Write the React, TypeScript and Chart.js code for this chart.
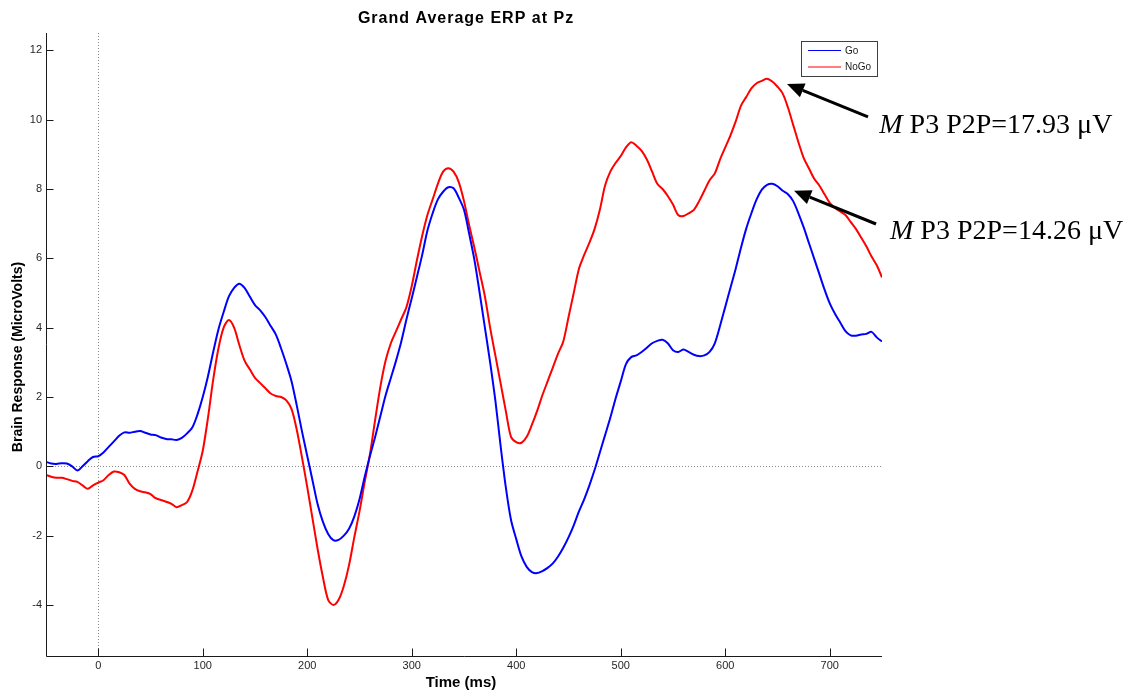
import { useEffect, useRef } from "react";
import { Chart, registerables } from "chart.js";

Chart.register(...registerables);

// ---- data ----
const TIME_START_MS = -50;
const TIME_STEP_MS = 5;

// Go condition, µV, one value every 5 ms from -50 to 750 ms
const goValues = [
  0.13, 0.08, 0.07, 0.09, 0.08, 0.0, -0.12, 0.0, 0.15, 0.27,
  0.29, 0.4, 0.56, 0.72, 0.88, 0.98, 0.97, 1.0, 1.02, 0.97,
  0.92, 0.9, 0.83, 0.79, 0.78, 0.76, 0.82, 0.95, 1.12, 1.5,
  2.0, 2.6, 3.3, 3.95, 4.45, 4.9, 5.15, 5.27, 5.15, 4.9,
  4.65, 4.5, 4.3, 4.05, 3.8, 3.4, 2.95, 2.45, 1.75, 1.0,
  0.3, -0.4, -1.1, -1.6, -1.95, -2.13, -2.12, -2.0, -1.8, -1.45,
  -0.95, -0.3, 0.3, 0.85, 1.45, 2.05, 2.55, 3.05, 3.6, 4.25,
  4.85, 5.47, 6.1, 6.8, 7.3, 7.7, 7.92, 8.05, 8.02, 7.75,
  7.4, 6.7, 5.95, 5.0, 4.0, 3.0, 1.9, 0.6, -0.6, -1.55,
  -2.1, -2.6, -2.9, -3.05, -3.08, -3.02, -2.93, -2.8, -2.6, -2.35,
  -2.05, -1.7, -1.3, -0.95, -0.55, -0.1, 0.4, 0.9, 1.4, 1.95,
  2.45, 2.95, 3.15, 3.2, 3.3, 3.42, 3.55, 3.62, 3.65, 3.55,
  3.35, 3.3, 3.37, 3.3, 3.22, 3.18, 3.2, 3.3, 3.55, 4.05,
  4.6, 5.15, 5.7, 6.3, 6.85, 7.3, 7.7, 7.98, 8.12, 8.15,
  8.08, 7.95, 7.85, 7.65, 7.3, 6.9, 6.45, 6.0, 5.55, 5.1,
  4.7, 4.4, 4.15, 3.9, 3.78, 3.77, 3.8, 3.82, 3.88, 3.72,
  3.6,
];

// NoGo condition, µV, same sampling
const noGoValues = [
  -0.25, -0.3, -0.33, -0.33, -0.37, -0.42, -0.45, -0.55, -0.65, -0.55,
  -0.47, -0.4, -0.25, -0.15, -0.17, -0.25, -0.5, -0.65, -0.72, -0.75,
  -0.8, -0.92, -0.97, -1.02, -1.08, -1.18, -1.12, -1.03, -0.7, -0.15,
  0.45, 1.4, 2.5, 3.4, 4.0, 4.22, 4.0, 3.5, 3.05, 2.8,
  2.55, 2.4, 2.25, 2.1, 2.03, 2.0, 1.9, 1.65, 1.05, 0.25,
  -0.6, -1.5, -2.4, -3.2, -3.85, -4.0, -3.85, -3.45, -2.85, -2.05,
  -1.3, -0.45, 0.35, 1.35, 2.3, 3.05, 3.55, 3.9, 4.25, 4.6,
  5.2, 5.95, 6.65, 7.25, 7.7, 8.15, 8.5, 8.6, 8.5, 8.2,
  7.65, 6.95, 6.3, 5.6, 4.9, 4.0, 3.2, 2.4, 1.6, 0.85,
  0.7, 0.68, 0.85, 1.2, 1.6, 2.05, 2.45, 2.85, 3.25, 3.6,
  4.3, 5.0, 5.7, 6.1, 6.45, 6.85, 7.4, 8.1, 8.5, 8.75,
  8.95, 9.2, 9.35, 9.25, 9.1, 8.85, 8.5, 8.15, 8.0, 7.8,
  7.55, 7.25, 7.22, 7.3, 7.4, 7.65, 7.95, 8.25, 8.45, 8.85,
  9.2, 9.55, 9.95, 10.4, 10.65, 10.9, 11.05, 11.12, 11.18, 11.1,
  10.95, 10.75, 10.35, 9.85, 9.35, 8.9, 8.6, 8.3, 8.1, 7.85,
  7.6, 7.45, 7.35, 7.25, 7.05, 6.85, 6.6, 6.35, 6.05, 5.8,
  5.45,
];

const timeMs = goValues.map((_, i) => TIME_START_MS + i * TIME_STEP_MS);

const seriesNames = ["Go", "NoGo"];
const xTickValues = [0, 100, 200, 300, 400, 500, 600, 700];
const yTickValues = [-4, -2, 0, 2, 4, 6, 8, 10, 12];
const X_MIN = -50;
const X_MAX = 750;
const Y_MIN = -5.5;
const Y_MAX = 12.5;

const chartTitle = "Grand Average ERP at Pz";
const xTitle = "Time (ms)";
const yTitle = "Brain Response (MicroVolts)";

const annotationValues = ["17.93", "14.26"];

// ---- styling / placement (not data) ----
const SANS = '"Liberation Sans", Arial, Helvetica, sans-serif';
const SERIF = '"Liberation Serif", "Times New Roman", Times, serif';
const COLORS = ["#0000ff", "#ff0000"];

// annotation anchors expressed in data units (ms, µV)
const ANNOTATIONS = [
  { tail: [736.6, 10.08], tip: [659.1, 11.03], text: [747.4, 9.61] },
  { tail: [744.3, 6.99], tip: [665.8, 7.95], text: [757.7, 6.55] },
];

function drawArrow(ctx: CanvasRenderingContext2D, x1: number, y1: number, x2: number, y2: number) {
  const ang = Math.atan2(y2 - y1, x2 - x1);
  const hl = 17;
  const hw = 7.5;
  const bx = x2 - hl * Math.cos(ang);
  const by = y2 - hl * Math.sin(ang);
  ctx.save();
  ctx.strokeStyle = "#000";
  ctx.fillStyle = "#000";
  ctx.lineWidth = 3;
  ctx.setLineDash([]);
  ctx.beginPath();
  ctx.moveTo(x1, y1);
  ctx.lineTo(bx, by);
  ctx.stroke();
  ctx.beginPath();
  ctx.moveTo(x2, y2);
  ctx.lineTo(bx + hw * Math.sin(ang), by - hw * Math.cos(ang));
  ctx.lineTo(bx - hw * Math.sin(ang), by + hw * Math.cos(ang));
  ctx.closePath();
  ctx.fill();
  ctx.restore();
}

const decorPlugin = {
  id: "erpDecor",
  beforeDatasetsDraw(chart: any) {
    const { ctx, chartArea: a, scales } = chart;
    const xs = scales.x;
    const ys = scales.y;
    ctx.save();
    ctx.strokeStyle = "#8a8a8a";
    ctx.lineWidth = 1;
    ctx.setLineDash([1, 2]);
    const x0 = Math.round(xs.getPixelForValue(0)) + 0.5;
    const y0 = Math.round(ys.getPixelForValue(0)) + 0.5;
    ctx.beginPath();
    ctx.moveTo(x0, a.top);
    ctx.lineTo(x0, a.bottom);
    ctx.moveTo(a.left, y0);
    ctx.lineTo(a.right, y0);
    ctx.stroke();
    ctx.restore();
  },
  afterDraw(chart: any) {
    const { ctx, chartArea: a, scales } = chart;
    const xs = scales.x;
    const ys = scales.y;
    ctx.save();

    // axes (box off: only left and bottom)
    const L = Math.round(a.left) + 0.5;
    const B = Math.round(a.bottom) - 0.5;
    ctx.strokeStyle = "#1a1a1a";
    ctx.lineWidth = 1;
    ctx.setLineDash([]);
    ctx.beginPath();
    ctx.moveTo(L, a.top);
    ctx.lineTo(L, B);
    ctx.lineTo(a.right, B);
    xTickValues.forEach((v) => {
      const p = Math.round(xs.getPixelForValue(v)) + 0.5;
      ctx.moveTo(p, B);
      ctx.lineTo(p, B - 8);
    });
    yTickValues.forEach((v) => {
      const p = Math.round(ys.getPixelForValue(v)) + 0.5;
      ctx.moveTo(L, p);
      ctx.lineTo(L + 7, p);
    });
    ctx.stroke();

    // chart title
    ctx.fillStyle = "#000";
    ctx.textBaseline = "alphabetic";
    ctx.textAlign = "center";
    ctx.font = `bold 16px ${SANS}`;
    (ctx as any).letterSpacing = "1px";
    ctx.fillText(chartTitle, (a.left + a.right) / 2 + 2, 23);
    (ctx as any).letterSpacing = "0px";

    // x axis title
    ctx.font = `bold 15px ${SANS}`;
    ctx.fillText(xTitle, (a.left + a.right) / 2 - 3, 687);

    // y axis title
    ctx.save();
    ctx.translate(22, (a.top + a.bottom) / 2 + 12);
    ctx.rotate(-Math.PI / 2);
    ctx.font = `bold 14px ${SANS}`;
    ctx.fillText(yTitle, 0, 0);
    ctx.restore();

    // legend box
    const lx = a.right - 81;
    const ly = a.top + 8;
    ctx.fillStyle = "#fff";
    ctx.fillRect(lx, ly, 76, 35);
    ctx.strokeStyle = "#404040";
    ctx.lineWidth = 1;
    ctx.strokeRect(lx + 0.5, ly + 0.5, 76, 35);
    seriesNames.forEach((name, i) => {
      const yy = ly + 9.5 + i * 16.5;
      ctx.strokeStyle = COLORS[i];
      ctx.lineWidth = 1.2;
      ctx.beginPath();
      ctx.moveTo(lx + 7, yy);
      ctx.lineTo(lx + 40, yy);
      ctx.stroke();
      ctx.fillStyle = "#1a1a1a";
      ctx.font = `10px ${SANS}`;
      ctx.textAlign = "left";
      ctx.textBaseline = "middle";
      ctx.fillText(name, lx + 44, yy + 0.5);
    });

    // annotations
    ANNOTATIONS.forEach((an, i) => {
      const tx = xs.getPixelForValue(an.tail[0]);
      const ty = ys.getPixelForValue(an.tail[1]);
      const px = xs.getPixelForValue(an.tip[0]);
      const py = ys.getPixelForValue(an.tip[1]);
      drawArrow(ctx, tx, ty, px, py);
      const sx = xs.getPixelForValue(an.text[0]);
      const sy = ys.getPixelForValue(an.text[1]);
      ctx.fillStyle = "#000";
      ctx.textAlign = "left";
      ctx.textBaseline = "alphabetic";
      ctx.font = `italic 28px ${SERIF}`;
      ctx.fillText("M", sx, sy);
      const mw = ctx.measureText("M").width;
      ctx.font = `28px ${SERIF}`;
      ctx.fillText(` P3 P2P=${annotationValues[i]} \u03BCV`, sx + mw, sy);
    });

    ctx.restore();
  },
};

export default function App() {
  const canvasRef = useRef<HTMLCanvasElement | null>(null);

  useEffect(() => {
    const canvas = canvasRef.current;
    if (!canvas) return;
    const chart = new Chart(canvas, {
      type: "line",
      data: {
        datasets: [goValues, noGoValues].map((vals, i) => ({
          label: seriesNames[i],
          data: vals.map((v, k) => ({ x: timeMs[k], y: v })),
          borderColor: COLORS[i],
          backgroundColor: COLORS[i],
          borderWidth: 2,
          pointRadius: 0,
          tension: 0.3,
          fill: false,
        })),
      },
      options: {
        responsive: false,
        animation: false,
        layout: { padding: { left: 0, top: 33, right: 244, bottom: 0 } },
        plugins: {
          legend: { display: false },
          title: { display: false },
          tooltip: { enabled: false },
        },
        scales: {
          x: {
            type: "linear",
            min: X_MIN,
            max: X_MAX,
            grid: { display: false, drawTicks: false },
            border: { display: false },
            afterBuildTicks: (s: any) => {
              s.ticks = xTickValues.map((v) => ({ value: v }));
            },
            afterFit: (s: any) => {
              s.height = 37;
            },
            ticks: {
              padding: 2,
              maxRotation: 0,
              autoSkip: false,
              color: "#262626",
              font: { family: SANS, size: 11 },
            },
          },
          y: {
            type: "linear",
            min: Y_MIN,
            max: Y_MAX,
            grid: { display: false, drawTicks: false },
            border: { display: false },
            afterBuildTicks: (s: any) => {
              s.ticks = yTickValues.map((v) => ({ value: v }));
            },
            afterFit: (s: any) => {
              s.width = 46;
            },
            ticks: {
              padding: 4,
              autoSkip: false,
              color: "#262626",
              font: { family: SANS, size: 11 },
            },
          },
        },
      },
      plugins: [decorPlugin],
    });
    return () => chart.destroy();
  }, []);

  return (
    <div style={{ position: "absolute", left: 0, top: 0, width: 1126, height: 694, background: "#fff" }}>
      <canvas ref={canvasRef} width={1126} height={694} style={{ display: "block" }} />
    </div>
  );
}
